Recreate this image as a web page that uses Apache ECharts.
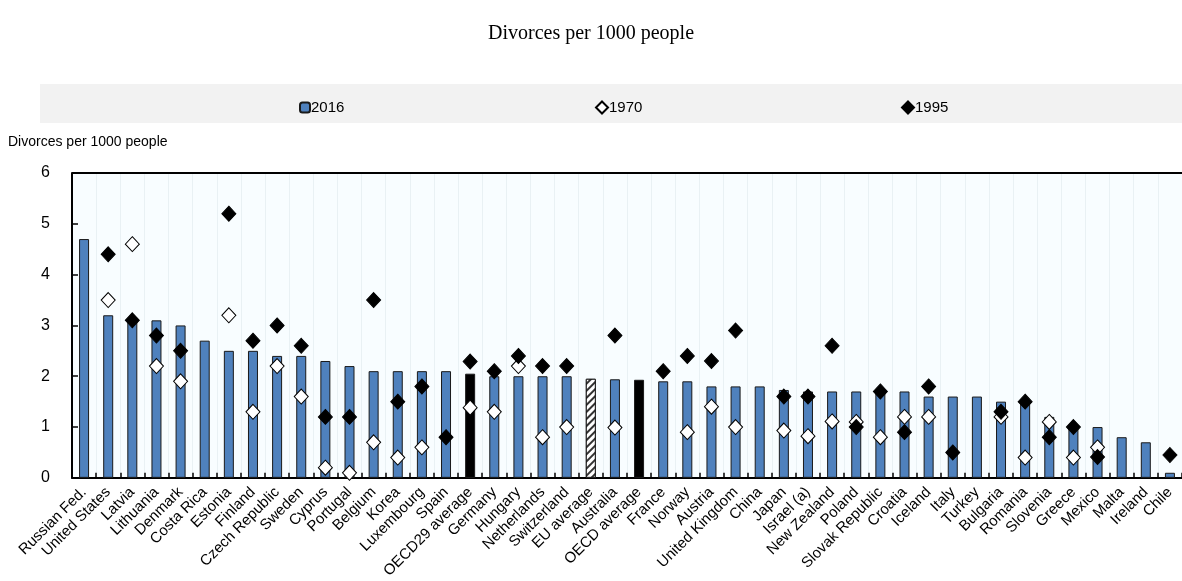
<!DOCTYPE html>
<html>
<head>
<meta charset="utf-8">
<script src="https://cdn.jsdelivr.net/npm/echarts@6/dist/echarts.min.js"></script>
<style>html,body{margin:0;padding:0;background:#fff}#c{width:1182px;height:581px}</style>
</head>
<body>
<div id="c"></div>
<script>
var categories = ["Russian Fed.","United States","Latvia","Lithuania","Denmark","Costa Rica","Estonia","Finland","Czech Republic","Sweden","Cyprus","Portugal","Belgium","Korea","Luxembourg","Spain","OECD29 average","Germany","Hungary","Netherlands","Switzerland","EU average","Australia","OECD average","France","Norway","Austria","United Kingdom","China","Japan","Israel (a)","New Zealand","Poland","Slovak Republic","Croatia","Iceland","Italy","Turkey","Bulgaria","Romania","Slovenia","Greece","Mexico","Malta","Ireland","Chile"];
var v2016 = [4.7,3.2,3.1,3.1,3.0,2.7,2.5,2.5,2.4,2.4,2.3,2.2,2.1,2.1,2.1,2.1,2.05,2.0,2.0,2.0,2.0,1.95,1.94,1.93,1.9,1.9,1.8,1.8,1.8,1.73,1.7,1.7,1.7,1.7,1.7,1.6,1.6,1.6,1.5,1.5,1.2,1.0,1.0,0.8,0.7,0.1];
var v1970 = [null,3.5,4.6,2.2,1.9,null,3.2,1.3,2.2,1.6,0.2,0.1,0.7,0.4,0.6,null,1.38,1.3,2.2,0.8,1.0,null,0.99,null,null,0.9,1.4,1.0,null,0.93,0.82,1.11,1.1,0.8,1.2,1.2,null,null,1.2,0.4,1.1,0.4,0.6,null,null,null];
var v1995 = [null,4.4,3.1,2.8,2.5,null,5.2,2.7,3.0,2.6,1.2,1.2,3.5,1.5,1.8,0.8,2.29,2.1,2.4,2.2,2.2,null,2.8,null,2.1,2.4,2.3,2.9,null,1.6,1.6,2.6,1.0,1.7,0.9,1.8,0.5,null,1.3,1.5,0.8,1.0,0.41,null,null,0.45];
var yTicks = [0,1,2,3,4,5,6];

var FONT = '"Liberation Sans", Arial, sans-serif';
var blackBars = ["OECD29 average","OECD average"];
var hatchBars = ["EU average"];

var barData = v2016.map(function(v,i){
  var c = categories[i];
  if (blackBars.indexOf(c) >= 0) return {value:v, itemStyle:{color:'#000000'}};
  if (hatchBars.indexOf(c) >= 0) return {value:v, itemStyle:{color:'#ffffff', decal:{symbol:'rect', color:'#333333', backgroundColor:'#ffffff', dashArrayX:[1,0], dashArrayY:[2,3], rotation:-Math.PI/4, symbolSize:1}}};
  return v;
});

var chart = echarts.init(document.getElementById('c'), null, {renderer:'canvas'});
chart.setOption({
  animation:false,
  backgroundColor:'#ffffff',
  title:{text:'Divorces per 1000 people', left:'center', top:19, textStyle:{fontFamily:'"Liberation Serif", "Times New Roman", serif', fontSize:20, fontWeight:'normal', color:'#000'}},
  graphic:[
    {type:'rect', left:40, top:84, shape:{width:1142, height:39}, style:{fill:'#f2f2f2'}, z:-1},
    {type:'text', left:8, top:135, style:{text:'Divorces per 1000 people', font:'14px "Liberation Sans", Arial, sans-serif', fill:'#000'}}
  ],
  legend:[
    {data:['2016'], left:294, top:95, itemWidth:10, itemHeight:10, itemGap:4, textStyle:{fontFamily:FONT, fontSize:15, color:'#000', padding:[0,0,0,-4]}},
    {data:['1970'], left:590, top:95, itemWidth:12, itemHeight:12, textStyle:{fontFamily:FONT, fontSize:15, color:'#000', padding:[0,0,0,-4]}},
    {data:['1995'], left:896, top:95, itemWidth:12, itemHeight:12, textStyle:{fontFamily:FONT, fontSize:15, color:'#000', padding:[0,0,0,-4]}}
  ],
  grid:{left:72, right:-11, top:173, bottom:102, containLabel:false, show:true, backgroundColor:'#f8fdff', borderWidth:0},
  xAxis:{type:'category', data:categories,
    axisLine:{lineStyle:{color:'#000', width:2}},
    axisTick:{show:true, inside:true, length:5, lineStyle:{color:'#000', width:1.5}},
    splitLine:{show:true, lineStyle:{color:'#e9f1f4', width:1}},
    axisLabel:{rotate:45, interval:0, fontFamily:FONT, fontSize:15, color:'#000', margin:12}
  },
  yAxis:[{type:'value', min:0, max:6, interval:1,
    axisLine:{show:true, lineStyle:{color:'#000', width:2}},
    axisTick:{show:true, inside:true, length:6, lineStyle:{color:'#000', width:1.5}},
    splitLine:{show:false},
    axisLabel:{fontFamily:FONT, fontSize:16, color:'#000', margin:22, formatter:function(v){return yTicks.indexOf(v)>=0? String(v):'';}}
  }],
  series:[
    {name:'2016', type:'bar', data:barData, barWidth:10,
      itemStyle:{color:'#4f81bd', borderColor:'#1a1a1a', borderWidth:1},
      markLine:{silent:true, symbol:'none', label:{show:false}, lineStyle:{color:'#000', width:2, type:'solid'}, data:[{yAxis:6}]}
    },
    {name:'1970', type:'scatter', data:v1970, symbol:'diamond', symbolSize:[14,15],
      itemStyle:{color:'#ffffff', borderColor:'#000000', borderWidth:1, opacity:1}},
    {name:'1995', type:'scatter', data:v1995, symbol:'diamond', symbolSize:[14,15],
      itemStyle:{color:'#000000', borderColor:'#000000', borderWidth:1, opacity:1}}
  ]
});
</script>
</body>
</html>
